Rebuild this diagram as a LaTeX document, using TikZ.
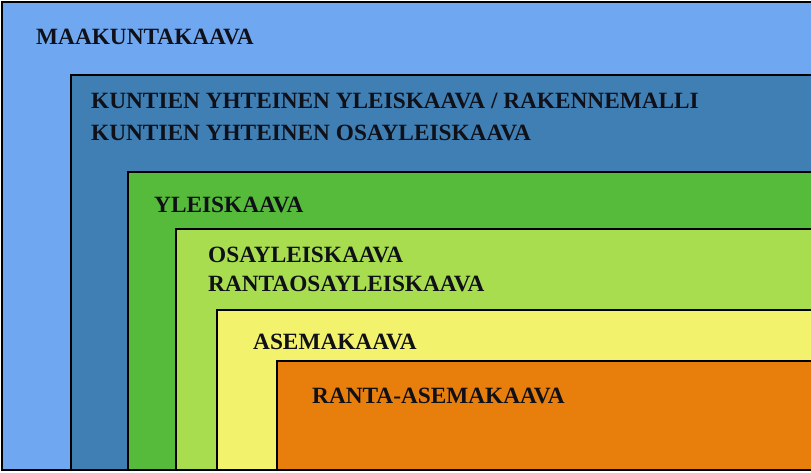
\documentclass[tikz,border=0pt]{standalone}
\usepackage{fontspec}
\setmainfont{Liberation Serif}
\usepackage{tikz}
\usetikzlibrary{positioning}

\definecolor{maakunta}{RGB}{111,168,240}
\definecolor{kuntien}{RGB}{63,127,180}
\definecolor{yleis}{RGB}{86,186,58}
\definecolor{osayleis}{RGB}{168,221,80}
\definecolor{asema}{RGB}{242,242,108}
\definecolor{ranta}{RGB}{232,126,12}
\definecolor{ink}{RGB}{16,16,24}

\begin{document}
\begin{tikzpicture}[x=1pt,y=-1pt,
   planbox/.style={draw=black,line width=2pt,anchor=north west,inner sep=0pt,
                 minimum width=840pt-#1,outer sep=0pt},
   planlabel/.style={anchor=base west,inner sep=0pt,text=ink,align=left,
                font=\fontsize{23.3}{#1}\selectfont\bfseries},
   planlabel/.default=32]
   \useasboundingbox (0,0) rectangle (811,473);
   \clip (0,0) rectangle (811,473);
   % nested plan levels
   \node[planbox=2pt,fill=maakunta,minimum height=468pt]   (l_1) at (2,2)     {};
   \node[planbox=71pt,fill=kuntien,minimum height=395pt]   (l_2) at (71,75)   {};
   \node[planbox=128pt,fill=yleis,minimum height=298pt]    (l_3) at (128,172) {};
   \node[planbox=176pt,fill=osayleis,minimum height=241pt] (l_4) at (176,229) {};
   \node[planbox=217pt,fill=asema,minimum height=160pt]    (l_5) at (217,310) {};
   \node[planbox=277pt,fill=ranta,minimum height=109pt]    (l_6) at (277,361) {};
   % labels (two-line ones sit on their last baseline)
   \node[planlabel]    (n_1) at (36,45)   {MAAKUNTAKAAVA};
   \node[planlabel=32] (n_2) at (91,141)  {KUNTIEN YHTEINEN YLEISKAAVA / RAKENNEMALLI\\KUNTIEN YHTEINEN OSAYLEISKAAVA};
   \node[planlabel]    (n_3) at (154,212) {YLEISKAAVA};
   \node[planlabel=29] (n_4) at (208,291) {OSAYLEISKAAVA\\RANTAOSAYLEISKAAVA};
   \node[planlabel]    (n_5) at (253,349) {ASEMAKAAVA};
   \node[planlabel]    (n_6) at (312,403) {RANTA-ASEMAKAAVA};
\end{tikzpicture}
\end{document}
